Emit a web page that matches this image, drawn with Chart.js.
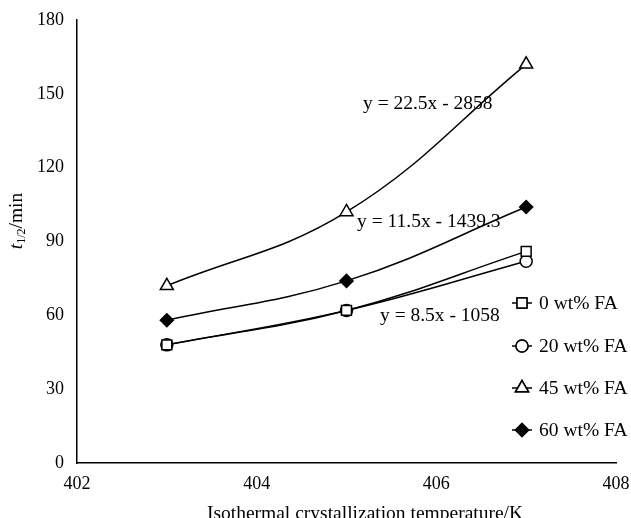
<!DOCTYPE html>
<html>
<head>
<meta charset="utf-8">
<script src="https://cdn.jsdelivr.net/npm/chart.js@4"></script>
<style>
  html, body { margin: 0; padding: 0; background: #fff; }
  #wrap { width: 631px; height: 518px; }
</style>
</head>
<body>
<div id="wrap"><canvas id="crystal_chart" width="631" height="518"></canvas></div>
<script>
// data
const temps = [403, 405, 407];
const fa0 = [48, 62, 86];
const fa20 = [48, 62, 82];
const fa45 = [72, 102, 162];
const fa60 = [58, 74, 104];
const seriesNames = ["0 wt% FA", "20 wt% FA", "45 wt% FA", "60 wt% FA"];
const xTicks = [402, 404, 406, 408];
const yTicks = [0, 30, 60, 90, 120, 150, 180];
const fitLabels = ["y = 22.5x - 2858", "y = 11.5x - 1439.3", "y = 8.5x - 1058"];

const SERIF = "'Liberation Serif', 'Times New Roman', serif";
const TXT = 19.5;

function pts(vals) {
    return temps.map((t, i) => ({ x: t, y: vals[i] }));
}

const styles = [
    { pointStyle: "rect", pointRadius: 7, bg: "#fff" },
    { pointStyle: "circle", pointRadius: 6, bg: "#fff" },
    { pointStyle: "triangle", pointRadius: 7.5, bg: "#fff" },
    { pointStyle: "rectRot", pointRadius: 6.5, bg: "#000" },
];
const allSeries = [fa0, fa20, fa45, fa60];

const datasets = allSeries.map((vals, i) => ({
    label: seriesNames[i],
    data: pts(vals),
    borderColor: "#000",
    borderWidth: 1.5,
    backgroundColor: styles[i].bg,
    pointBackgroundColor: styles[i].bg,
    pointBorderColor: "#000",
    pointBorderWidth: 1.5,
    pointStyle: styles[i].pointStyle,
    pointRadius: styles[i].pointRadius,
    tension: 0.4,
    fill: false,
}));

// legend, labels and axis titles drawn by hand
const extras = {
    id: "extras",
    afterDraw(chart) {
        const ctx = chart.ctx;
        ctx.save();
        ctx.fillStyle = "#000";
        ctx.strokeStyle = "#000";
        ctx.font = TXT + "px " + SERIF;
        ctx.textBaseline = "middle";

        // fit equations
        ctx.textAlign = "left";
        ctx.fillText(fitLabels[0], 363, 104);
        ctx.fillText(fitLabels[1], 357, 222);
        ctx.fillText(fitLabels[2], 380, 316);

        // legend
        const legY = [303, 346, 388, 430];
        chart.data.datasets.forEach((ds, i) => {
            const cx = 522, cy = legY[i];
            ctx.lineWidth = 1.5;
            ctx.beginPath();
            ctx.moveTo(cx - 10, cy);
            ctx.lineTo(cx + 10, cy);
            ctx.stroke();
            ctx.fillStyle = ds.pointBackgroundColor;
            Chart.helpers.drawPoint(ctx, {
                pointStyle: ds.pointStyle,
                radius: ds.pointRadius,
                borderWidth: 1.5,
                rotation: 0,
            }, cx, cy);
            ctx.fill();
            ctx.stroke();
            ctx.fillStyle = "#000";
            ctx.fillText(ds.label, 539, cy + 1);
        });

        // x title
        ctx.textAlign = "center";
        ctx.fillText("Isothermal crystallization temperature/K", 365, 514);

        // y title: t1/2/min
        ctx.translate(17, 221);
        ctx.rotate(-Math.PI / 2);
        ctx.textAlign = "left";
        ctx.font = "italic " + TXT + "px " + SERIF;
        const w1 = ctx.measureText("t").width;
        ctx.font = "12px " + SERIF;
        const w2 = ctx.measureText("1/2").width;
        ctx.font = TXT + "px " + SERIF;
        const w3 = ctx.measureText("/min").width;
        let x0 = -(w1 + w2 + w3) / 2;
        ctx.font = "italic " + TXT + "px " + SERIF;
        ctx.fillText("t", x0, 0);
        ctx.font = "12px " + SERIF;
        ctx.fillText("1/2", x0 + w1, 5);
        ctx.font = TXT + "px " + SERIF;
        ctx.fillText("/min", x0 + w1 + w2, 0);
        ctx.restore();
    }
};

new Chart("crystal_chart", {
    type: "line",
    data: { datasets: datasets },
    options: {
        responsive: false,
        animation: false,
        layout: { padding: { top: 20, right: 15, left: 0, bottom: 0 } },
        plugins: {
            legend: { display: false },
            tooltip: { enabled: false },
        },
        scales: {
            x: {
                type: "linear",
                min: 402,
                max: 408,
                afterFit: (s) => { s.height = 55; s.paddingRight = 0; s.paddingLeft = 0; },
                afterBuildTicks: (s) => { s.ticks = xTicks.map(v => ({ value: v })); },
                grid: { display: false, drawTicks: true, tickLength: 6, tickColor: "#000" },
                border: { color: "#000", width: 1.5 },
                ticks: { color: "#000", font: { family: SERIF, size: 18 }, padding: 4 },
            },
            y: {
                min: 0,
                max: 180,
                afterFit: (s) => { s.width = 77; },
                afterBuildTicks: (s) => { s.ticks = yTicks.map(v => ({ value: v })); },
                grid: { display: false, drawTicks: true, tickLength: 5, tickColor: "#000" },
                border: { color: "#000", width: 1.5 },
                ticks: { color: "#000", font: { family: SERIF, size: 18 }, padding: 8 },
            },
        },
    },
    plugins: [extras],
});
</script>
</body>
</html>
